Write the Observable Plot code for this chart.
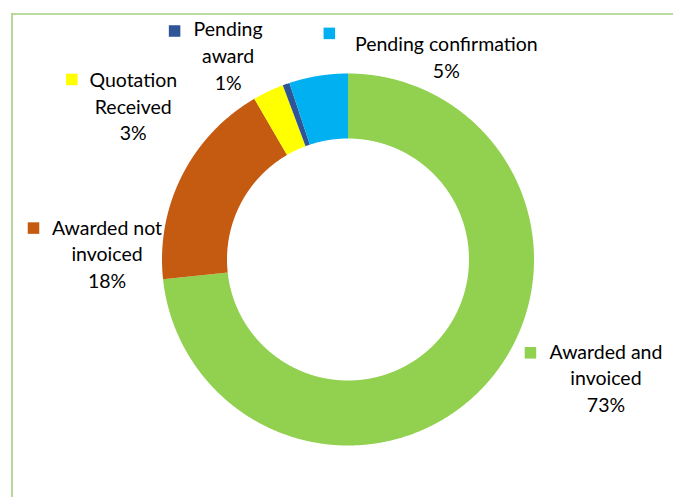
<!DOCTYPE html>
<html><head><meta charset="utf-8">
<script src="https://cdn.jsdelivr.net/npm/d3@7"></script>
<script src="https://cdn.jsdelivr.net/npm/@observablehq/plot@0.6"></script>
<style>body{margin:0;background:#fff} #chart svg{display:block}</style>
</head><body><div id="chart"></div>
<script>
// ---- data ----
const categories = ["Awarded and invoiced", "Awarded not invoiced", "Quotation Received", "Pending award", "Pending confirmation"];
const shares = [73.3, 18.3, 2.7, 0.6, 5.1];
const labelText = ["Awarded and\ninvoiced", "Awarded not\ninvoiced", "Quotation\nReceived", "Pending\naward", "Pending confirmation"];
const colors = ["#92d050", "#c55a11", "#ffff00", "#2f5597", "#00b0f0"];

// ---- layout ----
const W = 673, H = 497, mL = 11.5, mT = 13.5, CX = 347.5, CY = 259, R = 186, RIN = 121;
const labelOffset = [[119.6, -7], [-75, 77], [-135, 14], [-58, -29.6], [128, -20]]; // px from slice outer mid-point
const keyOffset = [[-75.5, -24], [-73.5, -24.5], [-61.5, -26], [-53.5, -23.5], [-117, -22.5]]; // px from label centre

const total = d3.sum(shares);
let acc = 0;
const slices = categories.map((c, i) => {
  const a0 = acc / total * 2 * Math.PI;
  acc += shares[i];
  const a1 = acc / total * 2 * Math.PI;
  return {cat: c, a0, a1, share: shares[i], label: labelText[i]};
});

const arcPts = [];
for (const s of slices) {
  const n = Math.max(2, Math.ceil((s.a1 - s.a0) / 0.004));
  for (let k = 0; k <= n; k++) {
    const a = s.a0 + (s.a1 - s.a0) * k / n;
    arcPts.push({cat: s.cat, x: Math.sin(a), y: Math.cos(a)});
  }
  const ri = RIN / R;
  for (let k = n; k >= 0; k--) {
    const a = s.a0 + (s.a1 - s.a0) * k / n;
    arcPts.push({cat: s.cat, x: ri * Math.sin(a), y: ri * Math.cos(a)});
  }
}

const labels = slices.map((s, i) => {
  const am = (s.a0 + s.a1) / 2;
  const lx = Math.sin(am) + labelOffset[i][0] / R;
  const ly = Math.cos(am) - labelOffset[i][1] / R;
  return {
    cat: s.cat,
    text: `${s.label}\n${Math.round(s.share)}%`,
    x: lx, y: ly,
    kx: lx + keyOffset[i][0] / R,
    ky: ly - keyOffset[i][1] / R
  };
});

const font = "Lato, 'Open Sans', sans-serif";
const chart = Plot.plot({
  width: W, height: H,
  marginLeft: mL, marginTop: mT, marginRight: 0, marginBottom: 0,
  x: {domain: [(mL - CX) / R, (W - CX) / R], axis: null},
  y: {domain: [-(H - CY) / R, (CY - mT) / R], axis: null},
  color: {domain: categories, range: colors},
  style: {background: "#fff", fontFamily: font},
  marks: [
    Plot.frame({anchor: "left", stroke: "#a6d17f", strokeWidth: 1.6}),
    Plot.frame({anchor: "top", stroke: "#a6d17f", strokeWidth: 1.6}),
    Plot.line(arcPts, {x: "x", y: "y", z: "cat", fill: "cat", stroke: "none"}),
    Plot.dot(labels, {x: "kx", y: "ky", symbol: "square", r: 6.5, fill: "cat", stroke: "none"}),
    Plot.text(labels, {x: "x", y: "y", text: "text", fontSize: 19.5, lineHeight: 1.36, fill: "#000", fontFamily: font})
  ]
});
document.getElementById("chart").append(chart);
</script>
</body></html>
